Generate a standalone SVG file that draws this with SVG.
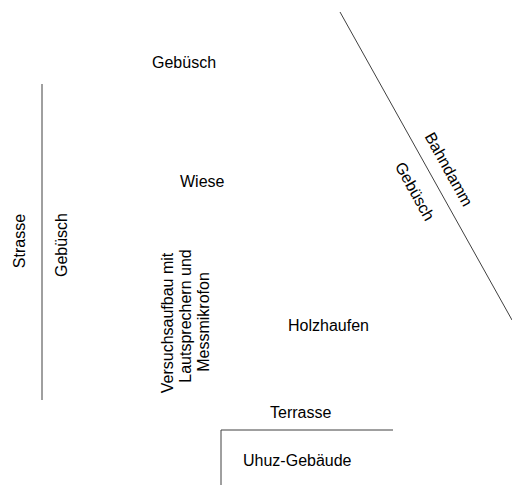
<svg xmlns="http://www.w3.org/2000/svg" width="512" height="485" viewBox="0 0 512 485">
<style>
text{font-family:"Liberation Sans",Arial,sans-serif;font-size:16px;fill:#000}
.m{text-anchor:middle}
line{stroke:#404040;stroke-width:1;fill:none}
</style>
<rect width="512" height="485" fill="#fff"/>
<g id="connectors">
<line x1="42" y1="84" x2="42" y2="400"/>
<line x1="340" y1="12" x2="512" y2="320"/>
<line x1="221" y1="430" x2="393" y2="430"/>
<line x1="221" y1="430" x2="221" y2="485"/>
</g>
<g id="gebuesch-top"><text x="152" y="68">Gebüsch</text></g>
<g id="wiese"><text x="180" y="187">Wiese</text></g>
<g id="holzhaufen"><text x="288" y="331">Holzhaufen</text></g>
<g id="terrasse"><text x="270" y="418">Terrasse</text></g>
<g id="uhuz"><text x="243" y="466">Uhuz-Gebäude</text></g>
<g id="strasse"><text class="m" x="25" y="241" transform="rotate(-90 25 241)">Strasse</text></g>
<g id="gebuesch-left"><text class="m" x="67" y="245" transform="rotate(-90 67 245)">Gebüsch</text></g>
<g id="versuchsaufbau">
<text class="m" x="173" y="323" transform="rotate(-90 173 323)">Versuchsaufbau mit</text>
<text class="m" x="191" y="316" transform="rotate(-90 191 316)">Lautsprechern und</text>
<text class="m" x="209" y="322" transform="rotate(-90 209 322)">Messmikrofon</text>
</g>
<g id="bahndamm"><text class="m" x="444" y="172" transform="rotate(61 444 172)">Bahndamm</text></g>
<g id="gebuesch-bahn"><text class="m" x="410" y="194" transform="rotate(61 410 194)">Gebüsch</text></g>
</svg>
